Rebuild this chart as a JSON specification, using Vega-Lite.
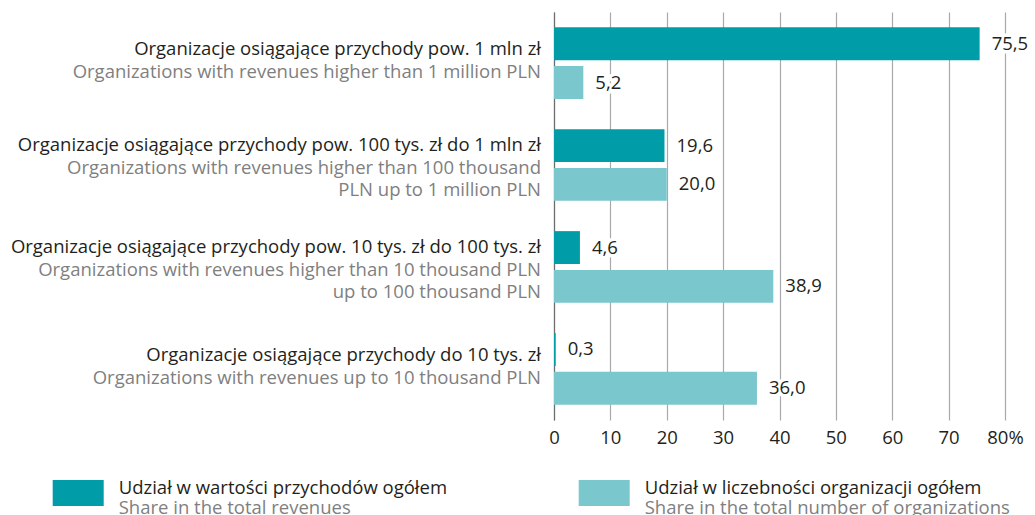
{
  "$schema": "https://vega.github.io/schema/vega-lite/v6.json",
  "autosize": {"type": "none"},
  "padding": {"left": 554, "top": 12, "right": 30, "bottom": 95},
  "width": 451,
  "height": 408,
  "config": {
    "locale": {"number": {"decimal": ",", "thousands": " ", "grouping": [3], "currency": ["", " zł"]}},
    "view": {"stroke": null},
    "font": "Open Sans"
  },
  "datasets": {
    "bars": [
      {"cat": "c1", "series_pl": "Udział w wartości przychodów ogółem", "series_en": "Share in the total revenues", "value": 75.5},
      {"cat": "c1", "series_pl": "Udział w liczebności organizacji ogółem", "series_en": "Share in the total number of organizations", "value": 5.2},
      {"cat": "c2", "series_pl": "Udział w wartości przychodów ogółem", "series_en": "Share in the total revenues", "value": 19.6},
      {"cat": "c2", "series_pl": "Udział w liczebności organizacji ogółem", "series_en": "Share in the total number of organizations", "value": 20.0},
      {"cat": "c3", "series_pl": "Udział w wartości przychodów ogółem", "series_en": "Share in the total revenues", "value": 4.6},
      {"cat": "c3", "series_pl": "Udział w liczebności organizacji ogółem", "series_en": "Share in the total number of organizations", "value": 38.9},
      {"cat": "c4", "series_pl": "Udział w wartości przychodów ogółem", "series_en": "Share in the total revenues", "value": 0.3},
      {"cat": "c4", "series_pl": "Udział w liczebności organizacji ogółem", "series_en": "Share in the total number of organizations", "value": 36.0}
    ],
    "cats": [
      {"cat": "c1", "nlines": 2, "pl": "Organizacje osiągające przychody pow. 1 mln zł", "en": "Organizations with revenues higher than 1 million PLN"},
      {"cat": "c2", "nlines": 3, "pl": "Organizacje osiągające przychody pow. 100 tys. zł do 1 mln zł", "en": "Organizations with revenues higher than 100 thousand\nPLN up to 1 million PLN"},
      {"cat": "c3", "nlines": 3, "pl": "Organizacje osiągające przychody pow. 10 tys. zł do 100 tys. zł", "en": "Organizations with revenues higher than 10 thousand PLN\nup to 100 thousand PLN"},
      {"cat": "c4", "nlines": 2, "pl": "Organizacje osiągające przychody do 10 tys. zł", "en": "Organizations with revenues up to 10 thousand PLN"}
    ]
  },
  "resolve": {"scale": {"yOffset": "independent"}},
  "encoding": {
    "y": {
      "field": "cat",
      "type": "nominal",
      "scale": {"domain": ["c1", "c2", "c3", "c4"], "paddingInner": 0.297, "paddingOuter": 0.15},
      "axis": {"title": null, "labels": false, "ticks": false, "domain": true, "domainColor": "#6d6d6d", "domainWidth": 1.2, "grid": false}
    }
  },
  "layer": [
    {
      "data": {"name": "bars"},
      "mark": {"type": "bar"},
      "encoding": {
        "x": {
          "field": "value",
          "type": "quantitative",
          "scale": {"domain": [0, 80], "nice": false},
          "axis": {
            "title": null,
            "values": [0, 10, 20, 30, 40, 50, 60, 70, 80],
            "labelExpr": "datum.value == 80 ? '80%' : datum.label",
            "labelFlush": false,
            "labelOverlap": false,
            "grid": true,
            "gridColor": "#a9a9a9",
            "gridWidth": 1.2,
            "domain": false,
            "ticks": false,
            "labelFontSize": 18.5,
            "labelColor": "#231f20",
            "labelPadding": 8
          }
        },
        "yOffset": {
          "field": "series_pl",
          "type": "nominal",
          "scale": {"type": "band", "domain": ["Udział w wartości przychodów ogółem", "Udział w liczebności organizacji ogółem"], "paddingInner": 0.154, "paddingOuter": 0}
        },
        "color": {
          "field": "series_pl",
          "type": "nominal",
          "scale": {"domain": ["Udział w wartości przychodów ogółem", "Udział w liczebności organizacji ogółem"], "range": ["#009ca8", "#7ac7cd"]},
          "legend": {
            "orient": "none",
            "legendX": -501.3,
            "legendY": 450.2,
            "direction": "horizontal",
            "title": null,
            "padding": 0,
            "symbolType": "M-1,-0.306H1V0.714H-1Z",
            "symbolSize": 2601,
            "symbolStrokeWidth": 0,
            "labelFontSize": 18.5,
            "labelColor": "#231f20",
            "labelOffset": 15,
            "labelLimit": 600,
            "columnPadding": 131
          }
        },
        "opacity": {
          "field": "series_en",
          "type": "nominal",
          "scale": {"domain": ["Share in the total revenues", "Share in the total number of organizations"], "range": [1, 1]},
          "legend": {
            "orient": "none",
            "legendX": -501.3,
            "legendY": 470.2,
            "direction": "horizontal",
            "title": null,
            "padding": 0,
            "symbolType": "M-1,0L1,0",
            "symbolSize": 2601,
            "symbolStrokeWidth": 0,
            "symbolFillColor": "transparent",
            "labelFontSize": 18.5,
            "labelColor": "#7f7f7f",
            "labelOffset": 15,
            "labelLimit": 600,
            "columnPadding": 227
          }
        }
      }
    },
    {
      "data": {"name": "bars"},
      "mark": {"type": "text", "align": "left", "baseline": "middle", "dx": 12, "fontSize": 18.5, "fill": "white", "stroke": "white", "strokeWidth": 7, "strokeJoin": "round"},
      "encoding": {
        "x": {"field": "value", "type": "quantitative"},
        "yOffset": {
          "field": "series_pl",
          "type": "nominal",
          "scale": {"type": "band", "domain": ["Udział w wartości przychodów ogółem", "Udział w liczebności organizacji ogółem"], "paddingInner": 0.154, "paddingOuter": 0}
        },
        "text": {"field": "value", "type": "quantitative", "format": ".1f"}
      }
    },
    {
      "data": {"name": "bars"},
      "mark": {"type": "text", "align": "left", "baseline": "middle", "dx": 12, "fontSize": 18.5, "color": "#231f20"},
      "encoding": {
        "x": {"field": "value", "type": "quantitative"},
        "yOffset": {
          "field": "series_pl",
          "type": "nominal",
          "scale": {"type": "band", "domain": ["Udział w wartości przychodów ogółem", "Udział w liczebności organizacji ogółem"], "paddingInner": 0.154, "paddingOuter": 0}
        },
        "text": {"field": "value", "type": "quantitative", "format": ".1f"}
      }
    },
    {
      "data": {"name": "cats"},
      "mark": {"type": "text", "align": "right", "baseline": "middle", "dx": -13, "fontSize": 18.5, "color": "#231f20"},
      "encoding": {
        "x": {"datum": 0, "type": "quantitative"},
        "yOffset": {"field": "nlines", "type": "ordinal", "scale": {"type": "point", "domain": [2, 3], "range": [25, 12.5]}},
        "text": {"field": "pl"}
      }
    },
    {
      "data": {"name": "cats"},
      "mark": {"type": "text", "align": "right", "baseline": "middle", "dx": -13, "fontSize": 18.5, "lineHeight": 22.5, "lineBreak": "\n", "color": "#7f7f7f"},
      "encoding": {
        "x": {"datum": 0, "type": "quantitative"},
        "yOffset": {"field": "nlines", "type": "ordinal", "scale": {"type": "point", "domain": [2, 3], "range": [48, 35.5]}},
        "text": {"field": "en"}
      }
    }
  ]
}
